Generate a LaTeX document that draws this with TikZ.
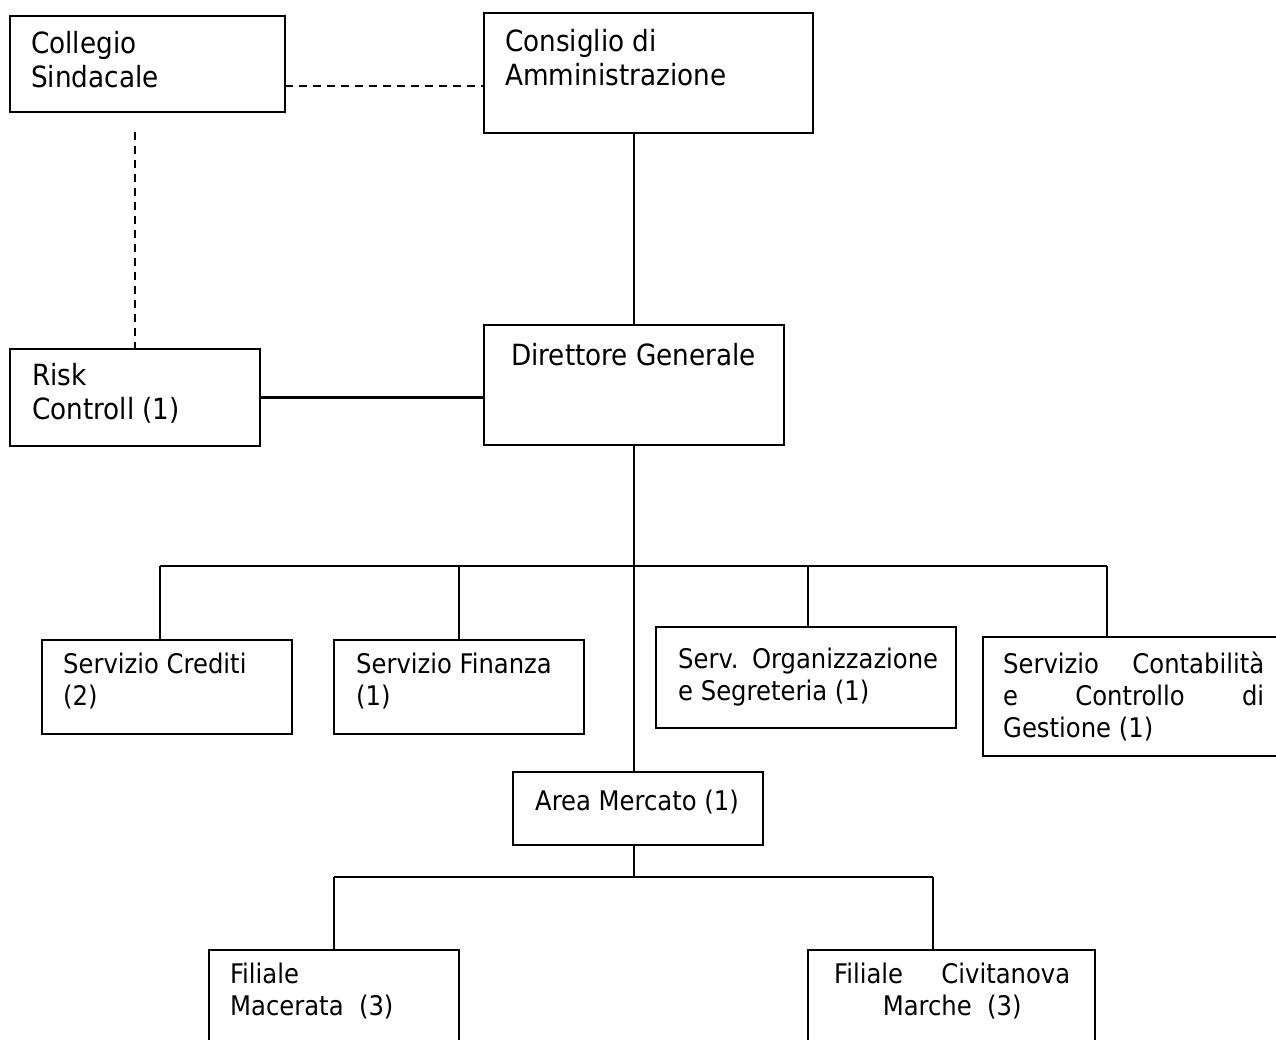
\documentclass[tikz,border=0pt]{standalone}
\usepackage{fontspec}
\setmainfont{DejaVu Sans Condensed}
\usetikzlibrary{calc}
\newcommand{\mylines}[1]{\begin{tabular}[t]{@{}l@{}}#1\end{tabular}}
\tikzset{
  box/.style={draw, line width=2.2pt, rectangle, inner sep=0pt, outer sep=0pt, anchor=north west},
  link/.style={line width=2.2pt},
  dlink/.style={line width=2.2pt, dash pattern=on 8pt off 6pt},
  big/.style={font=\fontsize{29.2}{34.5}\selectfont, inner sep=0pt, anchor=base west},
  small/.style={font=\fontsize{27}{32}\selectfont, inner sep=0pt, anchor=base west},
}
\begin{document}
\begin{tikzpicture}[x=1pt,y=-1pt]
\useasboundingbox (0,0) rectangle (1276,1039);
\clip (0,0) rectangle (1276,1039);
\fill[white] (0,0) rectangle (1276,1039);

% boxes
\node[box, minimum width=275, minimum height=96]  (cs)  at (10,16)  {};
\node[box, minimum width=329, minimum height=120] (cda) at (484,13) {};
\node[box, minimum width=300, minimum height=120] (dg)  at (484,325) {};
\node[box, minimum width=250, minimum height=97]  (rc)  at (10,349) {};
\node[box, minimum width=250, minimum height=94]  (cred) at (42,640) {};
\node[box, minimum width=250, minimum height=94]  (fin)  at (334,640) {};
\node[box, minimum width=300, minimum height=101] (org)  at (656,627) {};
\node[box, minimum width=320, minimum height=119] (cont) at (983,637) {};
\node[box, minimum width=250, minimum height=73]  (am)   at (513,772) {};
\node[box, minimum width=250, minimum height=110] (mac)  at (209,950) {};
\node[box, minimum width=287, minimum height=110] (civ)  at (808,950) {};

% texts
\node[big] (cs-t)  at (31,53)  {\mylines{Collegio\\Sindacale}};
\node[big] (cda-t) at (505,51) {\mylines{Consiglio di\\Amministrazione}};
\node[big] (dg-t)  at (511,365) {Direttore Generale};
\node[big] (rc-t)  at (32,385) {\mylines{Risk\\Controll (1)}};
\node[small] (cred-t) at (63,673) {\mylines{Servizio Crediti\\(2)}};
\node[small] (fin-t)  at (356,673) {\mylines{Servizio Finanza\\(1)}};
\node[small] (org-t)  at (678,668) {\mylines{\makebox[260pt][s]{Serv.\hfill Organizzazione}\\e Segreteria (1)}};
\node[small] (cont-t) at (1003,673) {\mylines{\makebox[261pt][s]{Servizio\hfill Contabilità}\\\makebox[261pt][s]{e\hfill Controllo\hfill di}\\Gestione (1)}};
\node[small] (am-t)   at (535,810) {Area Mercato (1)};
\node[small] (mac-t)  at (230,983) {\mylines{Filiale\\Macerata\ \ (3)}};
\node[small] (civ-t)  at (834,983) {\mylines{\makebox[236pt][s]{Filiale\hfill Civitanova}\\\makebox[236pt][c]{Marche\ \ (3)}}};

% helper coordinates
\coordinate (h1) at (285,86);
\coordinate (v1) at (135,132);
\coordinate (busA) at (160,566);
\coordinate (busB) at (459,566);
\coordinate (busC) at (808,566);
\coordinate (busD) at (1107,566);
\coordinate (busE) at (334,877);
\coordinate (busF) at (933,877);
\coordinate (busG) at (634,877);

% connectors
\draw[dlink] (cs.east |- h1) -- (cda.west |- h1);
\draw[dlink] (v1) -- (v1 |- rc.north);
\draw[link] (dg.north |- cda.south) -- (dg.north);
\draw[link] (rc.east) -- (rc.east -| dg.west);
\draw[link] (dg.south) -- (dg.south |- am.north);
\draw[link] (busA) -- (busD);
\draw[link] (busA) -- (busA |- cred.north);
\draw[link] (busB) -- (busB |- fin.north);
\draw[link] (busC) -- (busC |- org.north);
\draw[link] (busD) -- (busD |- cont.north);
\draw[link] (busG |- am.south) -- (busG);
\draw[link] (busE) -- (busF);
\draw[link] (busE) -- (busE |- mac.north);
\draw[link] (busF) -- (busF |- civ.north);
\end{tikzpicture}
\end{document}
